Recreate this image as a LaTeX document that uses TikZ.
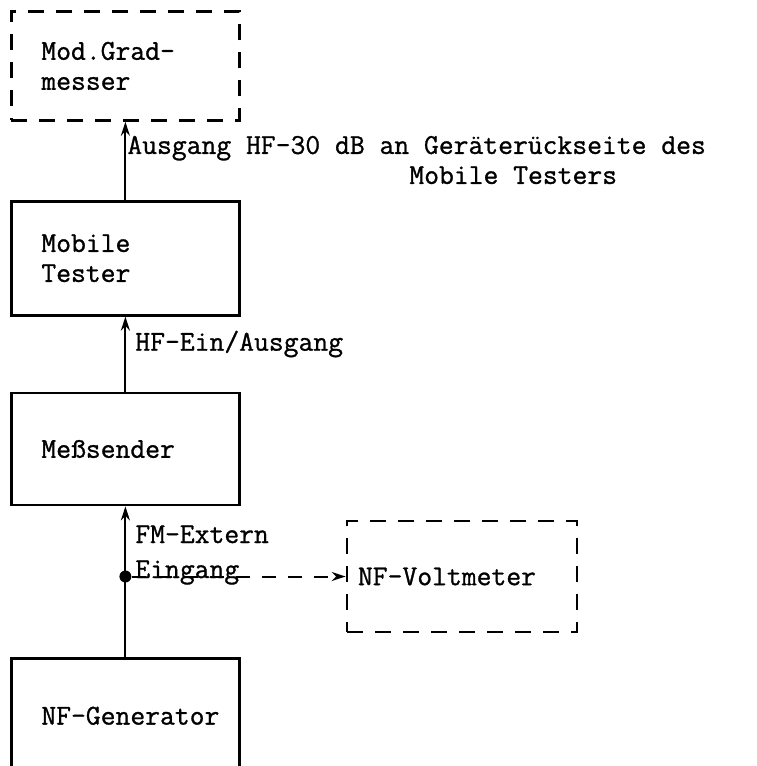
\documentclass[tikz,border=0pt]{standalone}
\usepackage{fontspec}
\newfontfamily\typefam{Latin Modern Mono}[FakeBold=1]
\usetikzlibrary{positioning, arrows.meta}
\newcommand{\typefont}{\typefam\fontsize{14.4}{15}\selectfont}
\tikzstyle{block} = [rectangle, draw=black, line width=1.4pt, minimum width=114pt, text width=84pt, inner xsep=15pt, align=left, font=\typefont]
\tikzstyle{dblock} = [block, dash pattern=on 8pt off 6pt]
\tikzstyle{arrow} = [line width=1pt,->,>={Stealth[length=7pt,width=4.5pt]}]
\tikzstyle{note} = [anchor=west, align=left, inner sep=0pt, font=\typefont]
\tikzstyle{dot} = [circle, fill=black, inner sep=0pt, minimum size=6pt]
\hfuzz=20pt

\begin{document}
\begin{tikzpicture}[x=0.5pt, y=-0.5pt]
    \useasboundingbox (0,0) rectangle (756,766);
    \clip (0,0) rectangle (756,766);

    \node (modgrad) [dblock, minimum height=54.5pt, anchor=north west] at (10,10) {Mod.Grad-\\messer};
    \node (mobile) [block, minimum height=57pt, below=39pt of modgrad] {Mobile\\Tester};
    \node (mess) [block, minimum height=56pt, below=37.5pt of mobile] {Meßsender};
    \node (gen) [block, minimum height=57pt, below=75.5pt of mess] {\mbox{NF-Generator}};
    \node (volt) [dblock, minimum width=115pt, minimum height=55.5pt, text width=104pt, inner xsep=5.5pt] at (462,576.5) {NF-Voltmeter};
    \node (junc) [dot] at (mess.south |- volt.west) {};

    \node (ausgang) [note] at (127,160) {Ausgang HF-30 dB an Geräterückseite des\\\hspace*{141pt}Mobile Testers};
    \node (hfein) [note] at (135,344) {HF-Ein/Ausgang};
    \node (fmext) [note] at (135,555) {FM-Extern\\[2.5pt]Eingang};

    \draw [arrow] (mobile) -- (modgrad);
    \draw [arrow] (mess) -- (mobile);
    \draw [arrow] (gen) -- (mess);
    \draw [arrow, dash pattern=on 7pt off 6pt] (junc) -- (volt.west);
\end{tikzpicture}
\end{document}
